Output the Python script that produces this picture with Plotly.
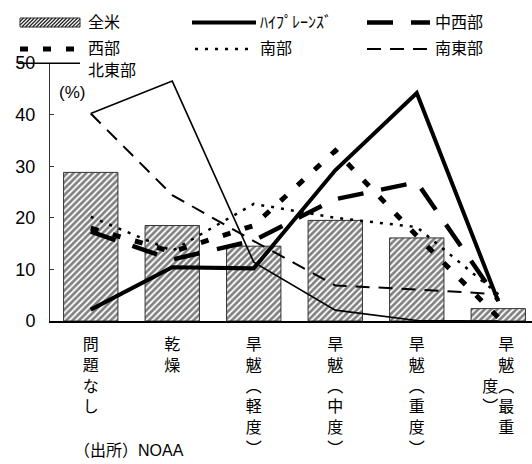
import plotly.graph_objects as go

# Share of each region's land in each drought category (%)
categories = ["問題なし", "乾燥", "旱魃（軽度）", "旱魃（中度）", "旱魃（重度）", "旱魃（最重度）"]
tick_labels = [
    "問<br>題<br>な<br>し",
    "乾<br>燥",
    "旱<br>魃<br>︵<br>軽<br>度<br>︶",
    "旱<br>魃<br>︵<br>中<br>度<br>︶",
    "旱<br>魃<br>︵<br>重<br>度<br>︶",
    "　旱<br>　魃<br>度︵<br>︶最<br>　重",
]
y_ticks = [0, 10, 20, 30, 40, 50]

nationwide = [28.8, 18.5, 14.5, 19.5, 16.1, 2.4]
high_plains = [2.2, 10.4, 10.2, 29.2, 44.2, 3.8]
midwest = [17.3, 11.9, 15.6, 23.6, 26.9, 4.0]
west = [18.0, 13.4, 18.5, 33.0, 16.5, 0.7]
south = [20.2, 13.6, 22.7, 20.0, 18.2, 5.2]
southeast = [40.2, 24.4, 15.5, 6.9, 6.1, 5.2]
northeast = [40.2, 46.5, 11.4, 2.1, 0.1, 0.0]

W, H = 532, 464
ML, MR, MT, MB = 50, 0, 63, 143
PW, PH = W - ML - MR, H - MT - MB

FONT = "Liberation Sans, Noto Sans CJK JP, sans-serif"


def px(x):
    return (x - ML) / PW


def py(y):
    return (H - MB - y) / PH


line_styles = [
    ("ﾊｲﾌﾟﾚｰﾝｽﾞ", high_plains, 4, "solid"),
    ("中西部", midwest, 4.5, "26px,18px"),
    ("西部", west, 5, "8px,15px"),
    ("南部", south, 2.5, "3px,7px"),
    ("南東部", southeast, 2, "14px,9px"),
    ("北東部", northeast, 1.6, "solid"),
]

fig = go.Figure()
fig.add_trace(go.Bar(
    x=categories, y=nationwide, name="全米", width=0.667,
    marker=dict(color="white", line=dict(color="#333333", width=1),
                pattern=dict(shape="/", fgcolor="black", bgcolor="white",
                             size=4.5, solidity=0.6)),
))
for name, vals, w, dash in line_styles:
    fig.add_trace(go.Scatter(
        x=categories, y=vals, name=name, mode="lines",
        line=dict(color="black", width=w, dash=dash),
    ))

shapes = []
annotations = []

# legend: hatched swatch for the bar series
x0, x1, ya, yb = 20, 80, 18, 27
shapes.append(dict(type="rect", xref="paper", yref="paper",
                   x0=px(x0), x1=px(x1), y0=py(yb), y1=py(ya),
                   line=dict(color="#333333", width=1), fillcolor="white"))
hh = yb - ya
s = x0 - hh
segs = []
while s < x1:
    bx, by = s, yb
    tx, ty = s + hh, ya
    if bx < x0:
        by = yb - (x0 - bx)
        bx = x0
    if tx > x1:
        ty = ya + (tx - x1)
        tx = x1
    if tx > bx:
        segs.append(f"M{px(bx)},{py(by)}L{px(tx)},{py(ty)}")
    s += 3.6
shapes.append(dict(type="path", xref="paper", yref="paper", path="".join(segs),
                   line=dict(color="#222222", width=1.2)))
annotations.append(dict(text="全米", x=px(86), y=py(22.5), xref="paper", yref="paper",
                        xanchor="left", yanchor="middle", showarrow=False,
                        font=dict(size=16, color="black", family=FONT)))

# legend: line samples, laid out in three columns
legend_pos = {
    "ﾊｲﾌﾟﾚｰﾝｽﾞ": (192, 256, 22.5, 258),
    "中西部": (367, 430, 22.5, 433),
    "西部": (20, 78, 49, 86),
    "南部": (195, 250, 49, 258),
    "南東部": (367, 432, 49, 433),
    "北東部": (18, 80, 63.3, 86),
}
for name, vals, w, dash in line_styles:
    lx0, lx1, ly, tx = legend_pos[name]
    shapes.append(dict(type="line", xref="paper", yref="paper",
                       x0=px(lx0), x1=px(lx1), y0=py(ly), y1=py(ly),
                       line=dict(color="black", width=w, dash=dash)))
    ty = ly if name != "北東部" else 70
    annotations.append(dict(text=name, x=px(tx), y=py(ty), xref="paper", yref="paper",
                            xanchor="left", yanchor="middle", showarrow=False,
                            font=dict(size=16, color="black", family=FONT)))

annotations.append(dict(text="(%)", x=px(57), y=py(92), xref="paper", yref="paper",
                        xanchor="left", yanchor="middle", showarrow=False,
                        font=dict(size=17, color="black", family=FONT)))
annotations.append(dict(text="（出所）NOAA", x=px(72), y=py(450), xref="paper", yref="paper",
                        xanchor="left", yanchor="middle", showarrow=False,
                        font=dict(size=16, color="black", family=FONT)))

fig.update_layout(
    width=W, height=H,
    margin=dict(l=ML, r=MR, t=MT, b=MB, pad=0),
    plot_bgcolor="white", paper_bgcolor="white",
    showlegend=False, bargap=0.333,
    font=dict(family=FONT, color="black"),
    shapes=shapes, annotations=annotations,
    xaxis=dict(range=[-0.5, (W - ML) / (PW / 5.914) - 0.5], showgrid=False,
               tickmode="array", tickvals=categories, ticktext=tick_labels,
               tickfont=dict(size=16, color="black", family=FONT),
               showline=True, linecolor="black", linewidth=1.5, ticks="",
               ticklabelstandoff=8, zeroline=False, automargin=False),
    yaxis=dict(range=[0, 50], tickvals=y_ticks, showgrid=False, zeroline=False,
               showline=True, linecolor="#333333", linewidth=1,
               ticks="inside", ticklen=4, tickcolor="#333333",
               tickfont=dict(size=18, color="black", family=FONT),
               ticklabelstandoff=10, automargin=False),
)

fig.write_html("out.html")
